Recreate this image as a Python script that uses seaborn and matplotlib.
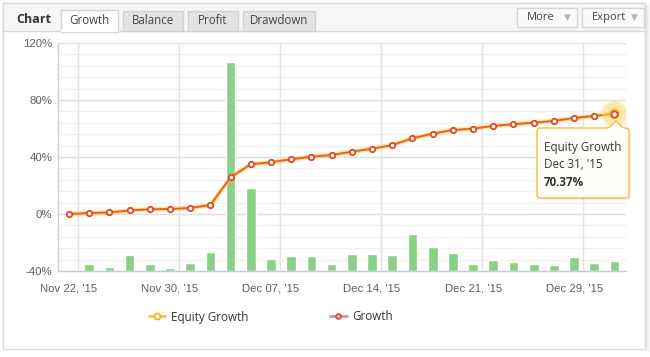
import numpy as np
import matplotlib
matplotlib.use("Agg")
import matplotlib.pyplot as plt
import seaborn as sns
from matplotlib.patches import Rectangle, FancyBboxPatch, Polygon
from matplotlib.lines import Line2D

# values (one point per trading day, Nov 22 - Dec 31 2015)
growth = [0.0, 0.7, 1.1, 2.5, 3.3, 3.5, 4.2, 6.3, 25.8, 34.9, 36.3, 38.4, 40.2, 41.4,
          43.7, 45.8, 48.4, 53.1, 56.4, 58.9, 59.9, 61.8, 63.0, 64.1, 65.3, 67.4, 68.8, 70.37]
equity_growth = [0.0, 0.7, 1.1, 2.5, 3.3, 3.5, 4.2, 6.3, 25.8, 34.9, 36.3, 38.4, 40.2, 41.4,
                 43.7, 45.8, 48.4, 53.1, 56.4, 58.9, 59.9, 61.8, 63.0, 64.1, 65.3, 67.4, 68.8, 70.37]
# daily bars (own scale, 0..160 spans the plot height)
daily = [0, 4.7, 2.6, 11.0, 4.7, 1.9, 5.4, 13.1, 146.9, 58.0, 8.2, 10.3, 10.3, 4.7,
         11.7, 11.7, 11.0, 25.8, 16.8, 12.4, 4.7, 7.5, 6.1, 4.7, 4.0, 9.6, 5.4, 6.8]
tick_idx = [0, 5, 10, 15, 20, 25]
tick_labels = ["Nov 22, '15", "Nov 30, '15", "Dec 07, '15", "Dec 14, '15", "Dec 21, '15", "Dec 29, '15"]
y_ticks = [-40, 0, 40, 80, 120]
tabs = ["Growth", "Balance", "Profit", "Drawdown"]

idx = list(range(len(growth)))

sns.set_theme(style="white")
plt.rcParams['font.family'] = ['Liberation Sans', 'DejaVu Sans']

W, H = 650, 357
fig = plt.figure(figsize=(W / 100, H / 100), dpi=100)

# background / widget chrome in pixel coords
ax_bg = fig.add_axes([0, 0, 1, 1], zorder=0)
ax_bg.set_xlim(0, W)
ax_bg.set_ylim(H, 0)
ax_bg.axis('off')
ui = ['Open Sans', 'DejaVu Sans']

ax_bg.add_patch(Rectangle((645, 5), 4, 346, fc='#ececec', ec='none'))
ax_bg.add_patch(Rectangle((3, 3), 642, 346, fc='white', ec='#d9d9d9', lw=1))
ax_bg.add_patch(Rectangle((3, 3), 642, 28, fc='#f6f6f6', ec='#d9d9d9', lw=1))
for i, (name, x0, x1) in enumerate(zip(tabs, [61, 123, 188, 243], [118, 183, 238, 315])):
    active = i == 0
    ax_bg.add_patch(Rectangle((x0, 10 if active else 11), x1 - x0, 21.5 if active else 20,
                              fc='white' if active else '#e3e3e3', ec='#d3d3d3', lw=1))
    if active:
        ax_bg.plot([x0 + 0.6, x1 - 0.6], [31, 31], color='white', lw=1.6, zorder=5)
    ax_bg.text((x0 + x1) / 2, 21, name, ha='center', va='center', fontsize=8.3,
               color='#444444', family=ui)
ax_bg.text(16, 19.5, "Chart", ha='left', va='center', fontsize=9, fontweight='bold',
           color='#333333', family=ui)
for name, x0, x1 in [("More", 517, 577), ("Export", 582, 644)]:
    ax_bg.add_patch(Rectangle((x0, 8), x1 - x0, 19, fc='#fafafa', ec='#d6d6d6', lw=1))
    ax_bg.text(x0 + 10, 17.5, name, ha='left', va='center', fontsize=8, color='#444444', family=ui)
    ax_bg.text(x1 - 10, 17.5, "\u25bc", ha='center', va='center', fontsize=6.5, color='#b5b5b5',
               family=['DejaVu Sans'])

rect = [58 / W, (H - 271) / H, 568 / W, 228 / H]
xlim = (-0.545, 27.57)

# bars + grid behind
ax_bars = fig.add_axes(rect, zorder=1)
for v in np.arange(0, 161, 8):
    major = v % 40 == 0
    ax_bars.axhline(v, color='#dedede' if major else '#f1f1f1', lw=1, zorder=0)
for t in tick_idx:
    ax_bars.axvline(t + 0.45, color='#e3e3e3', lw=1, zorder=0)
sns.barplot(x=idx, y=daily, ax=ax_bars, color='#8bd087', saturation=1, width=0.48, zorder=2)
ax_bars.set_xlim(*xlim)
ax_bars.set_ylim(0, 160)
ax_bars.set_xlabel('')
ax_bars.set_ylabel('')
ax_bars.set_xticks([])
ax_bars.set_yticks([])
for s in ax_bars.spines.values():
    s.set_visible(False)

# lines on top
ax = fig.add_axes(rect, zorder=2)
ax.patch.set_alpha(0)
sns.lineplot(x=idx, y=equity_growth, ax=ax, color='#f8c83a', lw=3.4, alpha=0.5, legend=False)
sns.lineplot(x=idx, y=growth, ax=ax, color='#e8621f', lw=1.4, marker='o', markersize=3.9,
             markerfacecolor='white', markeredgecolor='#e0482a', markeredgewidth=1.3, legend=False)
ax.scatter([idx[-1]], [growth[-1]], s=330, color='#fcd765', alpha=0.55, edgecolor='none', zorder=4)
ax.scatter([idx[-1]], [growth[-1]], s=55, color='#f7b733', edgecolor='none', zorder=5)
ax.scatter([idx[-1]], [growth[-1]], s=20, color='white', edgecolor='#e0482a', lw=1.3, zorder=6)
ax.set_xlim(*xlim)
ax.set_ylim(-40, 120)
ax.set_yticks(y_ticks)
ax.set_yticklabels([f"{v}%" for v in y_ticks])
ax.set_xticks(tick_idx)
ax.set_xticklabels(tick_labels)
ax.tick_params(axis='both', length=0, labelsize=8.2, labelcolor='#606060')
ax.tick_params(axis='x', pad=9)
ax.tick_params(axis='y', pad=4)
ax.set_xlabel('')
ax.set_ylabel('')
for k in ['top', 'right']:
    ax.spines[k].set_visible(False)
ax.spines['left'].set_color('#d0d0d0')
ax.spines['bottom'].set_color('#c4ccd6')
ax.spines['left'].set_linewidth(1)
ax.spines['bottom'].set_linewidth(1)

# tooltip
ax_top = fig.add_axes([0, 0, 1, 1], zorder=5)
ax_top.set_xlim(0, W)
ax_top.set_ylim(H, 0)
ax_top.axis('off')
ax_top.patch.set_alpha(0)
ax_top.add_patch(FancyBboxPatch((539, 130), 92, 70, boxstyle='round,pad=0,rounding_size=3',
                                fc='#000000', ec='none', alpha=0.06))
ax_top.add_patch(FancyBboxPatch((537, 128), 92, 70, boxstyle='round,pad=0,rounding_size=3',
                                fc='#fffefa', ec='#f2c44e', lw=1.1))
ax_top.add_patch(Polygon([(608, 128.6), (616, 121), (624, 128.6)], closed=False,
                         fc='#fffefa', ec='#f2c44e', lw=1.1))
ax_top.plot([608.8, 623.2], [128.6, 128.6], color='#fffefa', lw=1.6)
ax_top.text(544, 147, "Equity Growth", fontsize=8.4, color='#333333', va='center', family=ui)
ax_top.text(544, 165, "Dec 31, '15", fontsize=8.4, color='#333333', va='center', family=ui)
ax_top.text(544, 183, "70.37%", fontsize=8.4, color='#333333', va='center', fontweight='bold',
            family=ui)

# legend
handles = [
    Line2D([], [], color='#f5c73a', lw=2, marker='o', markersize=4.3, markerfacecolor='white',
           markeredgecolor='#f2b61e', markeredgewidth=1.3),
    Line2D([], [], color='#e39090', lw=2, marker='o', markersize=3.6, markerfacecolor='#f3b3b3',
           markeredgecolor='#d9534f', markeredgewidth=1.3),
]
fig.legend(handles, ["Equity Growth", "Growth"], loc='center', bbox_to_anchor=(271 / W, 1 - 317 / H),
           ncol=2, frameon=False, handlelength=1.4, handletextpad=0.5, columnspacing=7.0,
           prop={'family': ui, 'size': 8.4}, labelcolor='#333333')

fig.savefig('out.png', dpi=100)
